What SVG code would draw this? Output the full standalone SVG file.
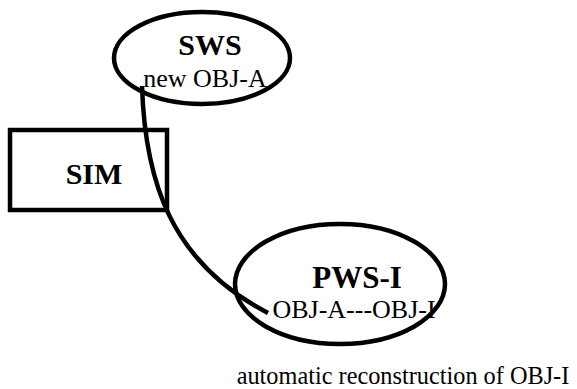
<svg xmlns="http://www.w3.org/2000/svg" width="577" height="389" viewBox="0 0 577 389">
<style>
.shape{fill:none;stroke:#000;stroke-width:4.5}
.t{font-family:"Liberation Serif",serif;fill:#000;text-anchor:middle}
.b{font-weight:bold}
</style>
<rect width="577" height="389" fill="#fff"/>
<g id="connectors">
<path class="shape" d="M142,86 C145,180 170,262 268,313"/>
</g>
<g id="sws">
<ellipse class="shape" cx="202" cy="58" rx="88" ry="46"/>
<text class="t b" x="210" y="55" font-size="30">SWS</text>
<text class="t" x="205" y="87" font-size="26">new OBJ-A</text>
</g>
<g id="sim">
<rect class="shape" x="10" y="130" width="157" height="80"/>
<text class="t b" x="94" y="184" font-size="30">SIM</text>
</g>
<g id="pws">
<ellipse class="shape" cx="340" cy="284" rx="105" ry="60"/>
<text class="t b" x="357" y="288" font-size="31">PWS-I</text>
<text class="t" x="354" y="318" font-size="26">OBJ-A---OBJ-I</text>
</g>
<text class="t" x="403" y="384" font-size="24.3">automatic reconstruction of OBJ-I</text>
</svg>
